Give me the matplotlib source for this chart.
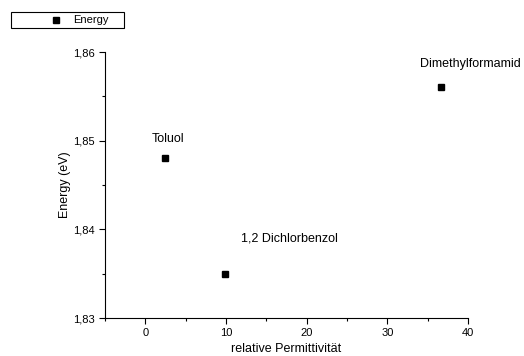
import matplotlib
matplotlib.use("Agg")
import matplotlib.pyplot as plt
from matplotlib.patches import Rectangle
from matplotlib.ticker import MultipleLocator, FuncFormatter

plt.rcParams["font.family"] = ["Liberation Sans", "DejaVu Sans"]

# Data
solvents = ["Toluol", "1,2 Dichlorbenzol", "Dimethylformamid"]
permittivity = [2.4, 9.9, 36.7]
energy = [1.848, 1.835, 1.856]
label_pos = [(0.75, 1.8502), (11.9, 1.8390), (34.0, 1.8586)]

W, H = 524, 356
fig = plt.figure(figsize=(W / 100, H / 100), dpi=100)
ax = fig.add_axes([105 / W, 1 - 318 / H, 363 / W, 266 / H])

ax.plot(permittivity, energy, "s", color="black", markersize=4.5, linestyle="none")
for name, (tx, ty) in zip(solvents, label_pos):
    ax.text(tx, ty, name, fontsize=9, ha="left", va="center")

ax.set_xlim(-5, 40)
ax.set_ylim(1.83, 1.86)
ax.xaxis.set_major_locator(MultipleLocator(10))
ax.xaxis.set_minor_locator(MultipleLocator(5))
ax.yaxis.set_major_locator(MultipleLocator(0.01))
ax.yaxis.set_minor_locator(MultipleLocator(0.005))
ax.yaxis.set_major_formatter(FuncFormatter(lambda v, p: f"{v:.2f}".replace(".", ",")))
ax.spines["top"].set_visible(False)
ax.spines["right"].set_visible(False)
ax.tick_params(which="both", direction="out", labelsize=8, width=0.8)
ax.tick_params(which="major", length=4)
ax.tick_params(which="minor", length=2.5)

ax.set_xlabel("relative Permittivität", fontsize=9, labelpad=3)
ax.set_ylabel("Energy (eV)", fontsize=9, labelpad=1)

# legend box drawn in figure pixels
fig.add_artist(Rectangle((12 / W, 1 - 29 / H), 113 / W, 16 / H, transform=fig.transFigure,
                         facecolor="#888888", edgecolor="none"))
fig.add_artist(Rectangle((11 / W, 1 - 28 / H), 113 / W, 16 / H, transform=fig.transFigure,
                         facecolor="white", edgecolor="black", linewidth=0.8))
fig.add_artist(plt.Line2D([56 / W], [1 - 20 / H], marker="s", color="black", markersize=4.5,
                          transform=fig.transFigure))
fig.text(73 / W, 1 - 20 / H, "Energy", fontsize=8, ha="left", va="center")

fig.savefig("out.png", dpi=100)
